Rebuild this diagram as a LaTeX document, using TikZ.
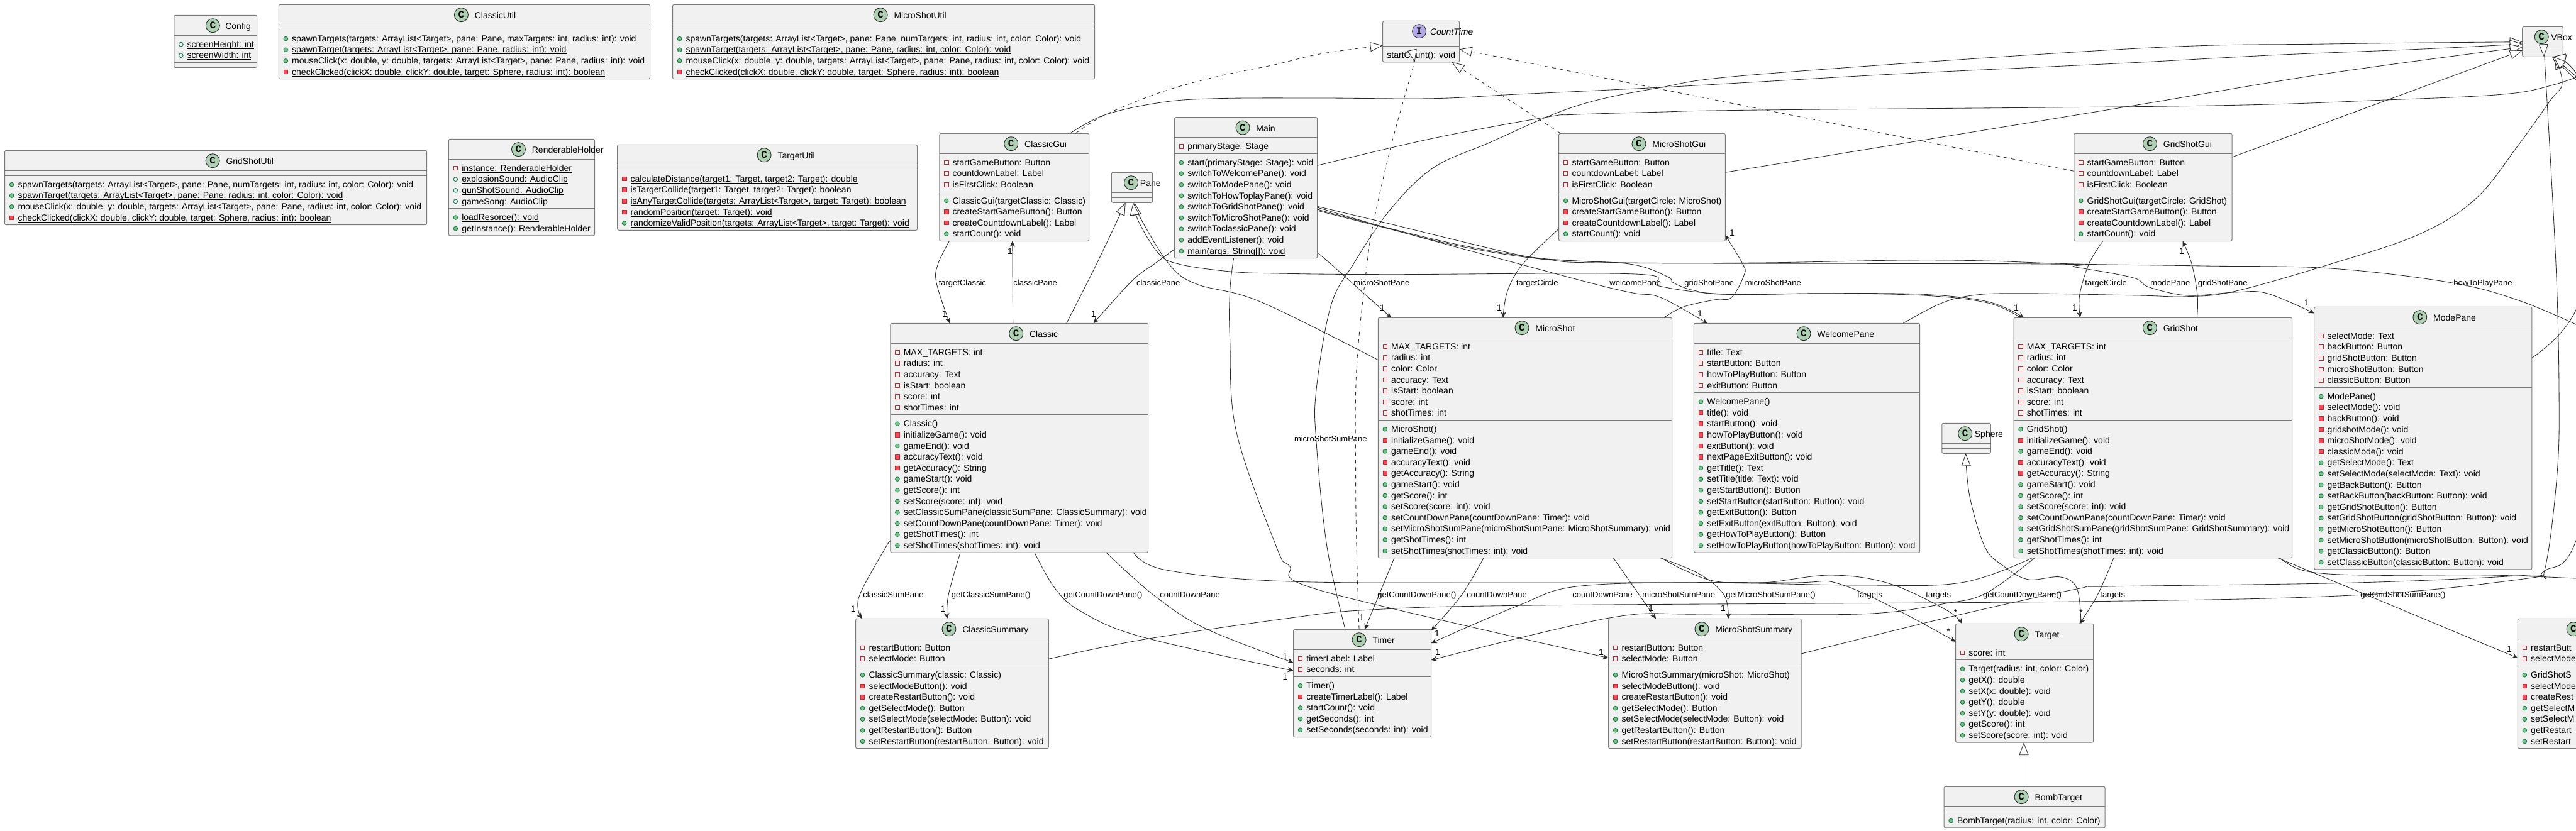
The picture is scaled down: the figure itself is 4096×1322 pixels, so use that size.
\documentclass[tikz,border=0pt]{standalone}
\usepackage{fontspec}
\setmainfont{Liberation Sans}
\newfontfamily\iconfamily{Liberation Mono}
\usetikzlibrary{arrows.meta}
\definecolor{boxfill}{HTML}{F1F1F1}
\definecolor{boxline}{HTML}{7A7A7A}
\definecolor{edgeline}{HTML}{2A2A2A}
\definecolor{iconclass}{HTML}{ADD1B2}
\definecolor{iconiface}{HTML}{B4A7E5}
\definecolor{publine}{HTML}{038048}
\definecolor{pubfill}{HTML}{84BE84}
\definecolor{priline}{HTML}{C82930}
\definecolor{prifill}{HTML}{F24D5C}
\newlength\tw
\newcounter{rowc}
\newcommand\umlsize{\fontsize{7}{8.4}\selectfont}
\tikzset{
  umlshape/.style={draw=boxline,fill=boxfill,line width=.5pt,rounded corners=1.2pt,inner sep=0pt,outer sep=0pt},
  sepline/.style={draw=boxline,line width=.5pt},
  iconC/.style={fill=iconclass},
  iconI/.style={fill=iconiface},
  iconbase/.style={circle,draw=edgeline,line width=.45pt,minimum size=11pt,inner sep=0pt,font=\iconfamily\bfseries\fontsize{8}{8}\selectfont},
  titletext/.style={anchor=base west,inner sep=0pt,font=\umlsize},
  rowtext/.style={anchor=base west,inner sep=0pt,font=\umlsize},
  visbase/.style={inner sep=0pt,line width=.45pt,minimum size=3.3pt},
  pubF/.style={visbase,circle,draw=publine},
  pubM/.style={visbase,circle,draw=publine,fill=pubfill},
  priF/.style={visbase,rectangle,draw=priline},
  priM/.style={visbase,rectangle,draw=priline,fill=prifill},
  conn/.style={draw=edgeline,line width=.42pt},
  assoc/.style={conn,-{Stealth[length=4.6pt,width=4.2pt,inset=1.6pt]}},
  genl/.style={conn,-{Triangle[length=10pt,width=7.5pt,fill=white,line width=.42pt]}},
  realz/.style={genl,dash pattern=on 3pt off 3pt},
  edgetext/.style={anchor=base west,inner sep=0pt,font=\fontsize{6.5}{7.8}\selectfont},
  multtext/.style={anchor=center,inner sep=0pt,font=\umlsize},
}
% [title offset]{name}{x1}{x2}{top}{n fields}{n methods}{icon letter}{title}
\newcommand\umlbox[9][21]{%
  \pgfmathsetmacro\bh{48+(#6+#7)*17.6}%
  \pgfmathsetmacro\bw{#4-#3}%
  \node[umlshape,minimum width=\bw*0.5pt,minimum height=\bh*0.5pt,anchor=north west] (#2) at (#3,#5) {};%
  \pgfmathsetmacro\sepa{#5+32}%
  \pgfmathsetmacro\sepb{#5+40+#6*17.6}%
  \draw[sepline] (#2.west |- {0,\sepa}) -- (#2.east |- {0,\sepa});%
  \draw[sepline] (#2.west |- {0,\sepb}) -- (#2.east |- {0,\sepb});%
  \settowidth\tw{\umlsize #9}%
  \pgfmathsetmacro\gw{11+#1+\tw*2}%
  \pgfmathsetmacro\icx{(#3+#4)/2-\gw/2+11}%
  \pgfmathsetmacro\icy{#5+16.4}%
  \pgfmathsetmacro\ttx{\icx+#1}%
  \pgfmathsetmacro\tty{#5+22.4}%
  \node[iconbase,icon#8] (#2-icon) at (\icx,\icy) {#8};%
  \node[titletext] (#2-title) at (\ttx,\tty) {#9};%
  \edef\curbox{#2}\edef\curx{#3}%
  \pgfmathsetmacro\rowy{\sepa+19}%
  \pgfmathsetmacro\rowyb{\sepb+19}%
  \setcounter{rowc}{0}%
}
\newcommand\methodsec{\edef\rowy{\rowyb}}
\newcommand\umlrow[2]{%
  \stepcounter{rowc}%
  \pgfmathsetmacro\viy{\rowy-4.7}%
  \pgfmathsetmacro\vix{\curx+11}%
  \pgfmathsetmacro\tx{\curx+20.5}%
  \node[#1] (\curbox-v\therowc) at (\vix,\viy) {};%
  \node[rowtext] (\curbox-t\therowc) at (\tx,\rowy) {#2};%
  \pgfmathsetmacro\rowy{\rowy+17.6}%
}
\newcommand\stat[1]{\setbox0\hbox{#1}\rlap{\rule[-1.2pt]{\wd0}{.45pt}}\box0}
\newcommand\pF[1]{\umlrow{pubF}{#1}}
\newcommand\xF[1]{\umlrow{priF}{#1}}
\newcommand\pM[1]{\umlrow{pubM}{#1}}
\newcommand\xM[1]{\umlrow{priM}{#1}}
\begin{document}
\begin{tikzpicture}[x=.5pt,y=-.5pt]
\useasboundingbox (0,0) rectangle (4096,1322);
\clip (0,0) rectangle (4096,1322);
\fill[white] (0,0) rectangle (4096,1322);

\umlbox[19.6]{Config}{276.8}{408.5}{24.3}{2}{0}{C}{Config}
\pF{\stat{screenHeight: int}}\pF{\stat{screenWidth: int}}

\umlbox{ClassicUtil}{443.3}{1033.5}{7.3}{0}{4}{C}{ClassicUtil}
\methodsec
\pM{\stat{spawnTargets(targets: ArrayList<Target>, pane: Pane, maxTargets: int, radius: int): void}}
\pM{\stat{spawnTarget(targets: ArrayList<Target>, pane: Pane, radius: int): void}}
\pM{\stat{mouseClick(x: double, y: double, targets: ArrayList<Target>, pane: Pane, radius: int): void}}
\xM{\stat{checkClicked(clickX: double, clickY: double, target: Sphere, radius: int): boolean}}

\umlbox{MicroShotUtil}{1069.6}{1740.6}{7.3}{0}{4}{C}{MicroShotUtil}
\methodsec
\pM{\stat{spawnTargets(targets: ArrayList<Target>, pane: Pane, numTargets: int, radius: int, color: Color): void}}
\pM{\stat{spawnTarget(targets: ArrayList<Target>, pane: Pane, radius: int, color: Color): void}}
\pM{\stat{mouseClick(x: double, y: double, targets: ArrayList<Target>, pane: Pane, radius: int, color: Color): void}}
\xM{\stat{checkClicked(clickX: double, clickY: double, target: Sphere, radius: int): boolean}}

\umlbox{GridShotUtil}{7.6}{678.6}{239.3}{0}{4}{C}{GridShotUtil}
\methodsec
\pM{\stat{spawnTargets(targets: ArrayList<Target>, pane: Pane, numTargets: int, radius: int, color: Color): void}}
\pM{\stat{spawnTarget(targets: ArrayList<Target>, pane: Pane, radius: int, color: Color): void}}
\pM{\stat{mouseClick(x: double, y: double, targets: ArrayList<Target>, pane: Pane, radius: int, color: Color): void}}
\xM{\stat{checkClicked(clickX: double, clickY: double, target: Sphere, radius: int): boolean}}

\umlbox{RenderableHolder}{713.4}{945.5}{221.3}{4}{2}{C}{RenderableHolder}
\xF{\stat{instance: RenderableHolder}}\pF{\stat{explosionSound: AudioClip}}\pF{\stat{gunShotSound: AudioClip}}\pF{\stat{gameSong: AudioClip}}
\methodsec
\pM{\stat{loadResorce(): void}}\pM{\stat{getInstance(): RenderableHolder}}

\umlbox{TargetUtil}{981.7}{1458.5}{230.3}{0}{5}{C}{TargetUtil}
\methodsec
\xM{\stat{calculateDistance(target1: Target, target2: Target): double}}
\xM{\stat{isTargetCollide(target1: Target, target2: Target): boolean}}
\xM{\stat{isAnyTargetCollide(targets: ArrayList<Target>, target: Target): boolean}}
\xM{\stat{randomPosition(target: Target): void}}
\pM{\stat{randomizeValidPosition(targets: ArrayList<Target>, target: Target): void}}

\umlbox{ClassicGui}{1493.8}{1731.7}{212.3}{3}{4}{C}{ClassicGui}
\xF{startGameButton: Button}\xF{countdownLabel: Label}\xF{isFirstClick: Boolean}
\methodsec
\pM{ClassicGui(targetClassic: Classic)}\xM{createStartGameButton(): Button}\xM{createCountdownLabel(): Label}\pM{startCount(): void}

\umlbox{Main}{1867.4}{2094.6}{186.7}{1}{9}{C}{Main}
\xF{primaryStage: Stage}
\methodsec
\pM{start(primaryStage: Stage): void}\pM{switchToWelcomePane(): void}\pM{switchToModePane(): void}\pM{switchToHowToplayPane(): void}\pM{switchToGridShotPane(): void}\pM{switchToMicroShotPane(): void}\pM{switchToclassicPane(): void}\pM{addEventListener(): void}\pM{\stat{main(args: String[]): void}}

\umlbox[14]{Pane}{1767.4}{1832.6}{274.3}{0}{0}{C}{Pane}

\umlbox[17]{CountTime}{2198.7}{2320.5}{33.3}{0}{1}{I}{\itshape CountTime}
\pgfmathsetmacro\cty{\rowyb}
\node[rowtext] (CountTime-t1) at (2205,\cty) {startCount(): void};

\umlbox{MicroShotGui}{2478.6}{2743.3}{212.3}{3}{4}{C}{MicroShotGui}
\xF{startGameButton: Button}\xF{countdownLabel: Label}\xF{isFirstClick: Boolean}
\methodsec
\pM{MicroShotGui(targetCircle: MicroShot)}\xM{createStartGameButton(): Button}\xM{createCountdownLabel(): Label}\pM{startCount(): void}

\umlbox{GridShotGui}{3297.8}{3549.1}{212.3}{3}{4}{C}{GridShotGui}
\xF{startGameButton: Button}\xF{countdownLabel: Label}\xF{isFirstClick: Boolean}
\methodsec
\pM{GridShotGui(targetCircle: GridShot)}\xM{createStartGameButton(): Button}\xM{createCountdownLabel(): Label}\pM{startCount(): void}

\umlbox[14.7]{VBox}{4010.7}{4075.4}{42.3}{0}{0}{C}{VBox}

\umlbox{Classic}{1415.9}{1825.5}{514.3}{6}{12}{C}{Classic}
\xF{MAX\_TARGETS: int}\xF{radius: int}\xF{accuracy: Text}\xF{isStart: boolean}\xF{score: int}\xF{shotTimes: int}
\methodsec
\pM{Classic()}\xM{initializeGame(): void}\pM{gameEnd(): void}\xM{accuracyText(): void}\xM{getAccuracy(): String}\pM{gameStart(): void}\pM{getScore(): int}\pM{setScore(score: int): void}\pM{setClassicSumPane(classicSumPane: ClassicSummary): void}\pM{setCountDownPane(countDownPane: Timer): void}\pM{getShotTimes(): int}\pM{setShotTimes(shotTimes: int): void}

\umlbox{MicroShot}{2191.3}{2658.7}{505.3}{7}{12}{C}{MicroShot}
\xF{MAX\_TARGETS: int}\xF{radius: int}\xF{color: Color}\xF{accuracy: Text}\xF{isStart: boolean}\xF{score: int}\xF{shotTimes: int}
\methodsec
\pM{MicroShot()}\xM{initializeGame(): void}\pM{gameEnd(): void}\xM{accuracyText(): void}\xM{getAccuracy(): String}\pM{gameStart(): void}\pM{getScore(): int}\pM{setScore(score: int): void}\pM{setCountDownPane(countDownPane: Timer): void}\pM{setMicroShotSumPane(microShotSumPane: MicroShotSummary): void}\pM{getShotTimes(): int}\pM{setShotTimes(shotTimes: int): void}

\umlbox{WelcomePane}{2693.4}{3052.6}{514.3}{4}{14}{C}{WelcomePane}
\xF{title: Text}\xF{startButton: Button}\xF{howToPlayButton: Button}\xF{exitButton: Button}
\methodsec
\pM{WelcomePane()}\xM{title(): void}\xM{startButton(): void}\xM{howToPlayButton(): void}\xM{exitButton(): void}\xM{nextPageExitButton(): void}\pM{getTitle(): Text}\pM{setTitle(title: Text): void}\pM{getStartButton(): Button}\pM{setStartButton(startButton: Button): void}\pM{getExitButton(): Button}\pM{setExitButton(exitButton: Button): void}\pM{getHowToPlayButton(): Button}\pM{setHowToPlayButton(howToPlayButton: Button): void}

\umlbox[14.8]{Sphere}{3087.8}{3165.3}{673.3}{0}{0}{C}{Sphere}

\umlbox{GridShot}{3202}{3644.7}{505.3}{7}{12}{C}{GridShot}
\xF{MAX\_TARGETS: int}\xF{radius: int}\xF{color: Color}\xF{accuracy: Text}\xF{isStart: boolean}\xF{score: int}\xF{shotTimes: int}
\methodsec
\pM{GridShot()}\xM{initializeGame(): void}\pM{gameEnd(): void}\xM{accuracyText(): void}\xM{getAccuracy(): String}\pM{gameStart(): void}\pM{getScore(): int}\pM{setScore(score: int): void}\pM{setCountDownPane(countDownPane: Timer): void}\pM{setGridShotSumPane(gridShotSumPane: GridShotSummary): void}\pM{getShotTimes(): int}\pM{setShotTimes(shotTimes: int): void}

\umlbox{ModePane}{3679.7}{4025.9}{488.3}{5}{16}{C}{ModePane}
\xF{selectMode: Text}\xF{backButton: Button}\xF{gridShotButton: Button}\xF{microShotButton: Button}\xF{classicButton: Button}
\methodsec
\pM{ModePane()}\xM{selectMode(): void}\xM{backButton(): void}\xM{gridshotMode(): void}\xM{microShotMode(): void}\xM{classicMode(): void}\pM{getSelectMode(): Text}\pM{setSelectMode(selectMode: Text): void}\pM{getBackButton(): Button}\pM{setBackButton(backButton: Button): void}\pM{getGridShotButton(): Button}\pM{setGridShotButton(gridShotButton: Button): void}\pM{getMicroShotButton(): Button}\pM{setMicroShotButton(microShotButton: Button): void}\pM{getClassicButton(): Button}\pM{setClassicButton(classicButton: Button): void}

\umlbox{ClassicSummary}{1360.6}{1667.3}{984.3}{2}{7}{C}{ClassicSummary}
\xF{restartButton: Button}\xF{selectMode: Button}
\methodsec
\pM{ClassicSummary(classic: Classic)}\xM{selectModeButton(): void}\xM{createRestartButton(): void}\pM{getSelectMode(): Button}\pM{setSelectMode(selectMode: Button): void}\pM{getRestartButton(): Button}\pM{setRestartButton(restartButton: Button): void}

\umlbox{Timer}{2056.5}{2275.7}{1001.3}{2}{5}{C}{Timer}
\xF{timerLabel: Label}\xF{seconds: int}
\methodsec
\pM{Timer()}\xM{createTimerLabel(): Label}\pM{startCount(): void}\pM{getSeconds(): int}\pM{setSeconds(seconds: int): void}

\umlbox{MicroShotSummary}{2557.6}{2864.2}{984.3}{2}{7}{C}{MicroShotSummary}
\xF{restartButton: Button}\xF{selectMode: Button}
\methodsec
\pM{MicroShotSummary(microShot: MicroShot)}\xM{selectModeButton(): void}\xM{createRestartButton(): void}\pM{getSelectMode(): Button}\pM{setSelectMode(selectMode: Button): void}\pM{getRestartButton(): Button}\pM{setRestartButton(restartButton: Button): void}

\umlbox{Target}{3109.5}{3328.7}{992.3}{1}{7}{C}{Target}
\xF{score: int}
\methodsec
\pM{Target(radius: int, color: Color)}\pM{getX(): double}\pM{setX(x: double): void}\pM{getY(): double}\pM{setY(y: double): void}\pM{getScore(): int}\pM{setScore(score: int): void}

\umlbox{BombTarget}{3091.2}{3347}{1251.3}{0}{1}{C}{BombTarget}
\methodsec
\pM{BombTarget(radius: int, color: Color)}

% this box runs off the right edge of the picture: only what fits on the page is printed
\umlbox[140.3]{GridShotSummary}{4003.3}{4310}{984.3}{2}{7}{C}{}
\xF{restartButt}\xF{selectMode}
\methodsec
\pM{GridShotS}\xM{selectMode}\xM{createRest}\pM{getSelectM}\pM{setSelectM}\pM{getRestart}\pM{setRestart}

% free ends that leave the page
\coordinate (howOff) at (4115,525);
\coordinate (mainOff) at (4125,112);
\coordinate (gridOff) at (4115,921);
\coordinate (offA) at (4135,165);
\coordinate (offB) at (4140,160);

% generalisations towards VBox
\draw[genl] plot[smooth,tension=.6] coordinates {(Timer.north -| {2139,0}) (2110,870) (2093,703) (2093,620) (2116,487) (2152,420) (2211,333) (2279,267) (2368,227) (2502,170) (2636,140) (2800,118) (3400,77) (3700,70) (VBox.west |- {0,66.7})};
\draw[genl] plot[smooth,tension=.6] coordinates {(ClassicGui.north -| {1701.3,0}) (1757,182.7) (1846,163) (1935.7,156.7) (2100,156) (2278.6,156.7) (2412.5,150) (2635.7,139.3) (2800,130) (3023,117.3) (3246,106.7) (3400,99.3) (3623,87.3) (3846,78.3) (VBox.west |- {0,70})};
\draw[genl] plot[smooth,tension=.6] coordinates {(MicroShotGui.east |- {0,274.3}) (2800,265) (3100,216) (3400,166.7) (3700,117) (VBox.west |- {0,75})};
\draw[genl] (GridShotGui.east |- {0,250}) -- (VBox.west |- {0,80});
\draw[genl] plot[smooth,tension=.6] coordinates {(WelcomePane.north -| {3026,0}) (3084.7,483.3) (3135.7,470) (3212,466.7) (3400,470) (3477.7,471.7) (3553.8,463.3) (3706,420) (3846,373) (3936,316.7) (4002.7,233) (4055,160) (4074,133) (VBox.south -| {4063,0})};
\draw[genl] plot[smooth,tension=.6] coordinates {(MicroShotSummary.east |- {0,1040}) (3094,983) (3302,937) (3355,933) (3746,927) (4020,915) (4046,907) (4066,753) (4069,620) (4064,420) (4047,110) (VBox.south -| {4045,0})};
\draw[genl] plot[smooth,tension=.6] coordinates {(ClassicSummary.east |- {0,1048.3}) (1815,1018) (2050,983.3) (2180.5,970) (2441.4,963) (3302.6,957) (3746,946.7) (4007,921.7) (4046,908) (4096,860) (4160,600) (4160,300) (4105,131) (VBox.south -| {4060,0})};
\draw[genl] plot[smooth,tension=.6] coordinates {(ModePane.east |- {0,569.3}) (4096,493) (4150,300) (4103,129) (VBox.south -| {4059,0})};
\draw[genl] (offA) -- (VBox.south -| {4058,0});
\draw[genl] (offB) -- (VBox.south -| {4060,0});
\draw[conn] plot[smooth,tension=.6] coordinates {(Main.east |- {0,263.3}) (2278.6,220) (2457,186.7) (2501.8,182.3) (2635.7,178.3) (2800,175) (3500,168.3) (3793,159) (3980,150) (4060,135) (mainOff)};

% realisations of CountTime
\draw[realz] plot[smooth,tension=.6] coordinates {(ClassicGui.north -| {1710,0}) (1757,182.7) (1846,146.7) (1935.7,121.7) (2025,103.3) (2100,85.7) (CountTime.west |- {0,72.3})};
\draw[realz] plot[smooth,tension=.6] coordinates {(MicroShotGui.north -| {2481.7,0}) (2385.7,150) (CountTime.south -| {2308.5,0})};
\draw[realz] (GridShotGui.west |- {0,272.3}) -- (CountTime.east |- {0,78.3});
\draw[realz] plot[smooth,tension=.6] coordinates {(Timer.north -| {2161,0}) (2157,870) (2155.6,753) (2157,586.7) (2173.7,420) (2184.8,350) (2211.6,233) (2243,120) (CountTime.south -| {2249.6,0})};

% generalisations towards Pane and Sphere, Target
\draw[genl] plot[smooth,tension=.6] coordinates {(Classic.north -| {1695.7,0}) (1743.6,420) (Pane.south -| {1789.7,0})};
\draw[genl] plot[smooth,tension=.6] coordinates {(MicroShot.west |- {0,572.7}) (2004,480) (1902,451.7) (1858.7,420) (1815,350) (Pane.south -| {1804,0})};
\draw[genl] plot[smooth,tension=.6] coordinates {(GridShot.north -| {3213,0}) (3161,482) (3059,470) (2906,467) (2743,468) (2638,455) (2600,436) (2208,436.7) (2029.6,435) (1953,431.7) (1874,420) (1842,403) (1810.7,353) (Pane.south -| {1801.8,0})};
\draw[genl] plot[smooth,tension=.6] coordinates {(Target.north -| {3309,0}) (3302.6,936.7) (3276.5,918) (3224,921.7) (3185,900) (3156,870) (3132,790) (Sphere.south -| {3125.5,0})};
\draw[genl] (BombTarget.north -| {3218,0}) -- (Target.south -| {3218,0});

% associations
\draw[assoc] plot[smooth,tension=.6] coordinates {(Main.west |- {0,396.7}) (1835.3,420) (1800,446.7) (Classic.north -| {1738.8,0})};
\draw[assoc] plot[smooth,tension=.6] coordinates {(ClassicGui.south -| {1509.4,0}) (1491.5,420) (1489,450) (Classic.north -| {1510,0})};
\draw[assoc] (Classic.north -| {1610.6,0}) -- (ClassicGui.south -| {1609.8,0});
\draw[assoc] plot[smooth,tension=.6] coordinates {(Main.east |- {0,401.7}) (2116,420) (MicroShot.north -| {2212,0})};
\draw[assoc] plot[smooth,tension=.6] coordinates {(Main.south -| {1961.6,0}) (1955.6,463) (1955.6,540) (1965.8,686.7) (2029.6,870) (2050,900) (2102,940) (MicroShotSummary.west |- {0,1046.7})};
\draw[assoc] plot[smooth,tension=.6] coordinates {(MicroShotGui.west |- {0,364}) (2421.4,420) (2397,463) (MicroShot.north -| {2390,0})};
\draw[assoc] plot[smooth,tension=.6] coordinates {(MicroShot.north -| {2646,0}) (2676.5,488.3) (2727.5,476.7) (2753,473.3) (2773.5,436.7) (2771,420) (MicroShotGui.east |- {0,374})};
\draw[assoc] plot[smooth,tension=.6] coordinates {(Main.east |- {0,330}) (2184.8,356.7) (2278.6,383) (2416,420) (2540,453) (2600,466.7) (2630.6,470) (2661,483.3) (WelcomePane.north -| {2714.8,0})};
\draw[assoc] plot[smooth,tension=.6] coordinates {(Main.east |- {0,333}) (2184.8,357) (2323,390) (2457,411.7) (2591,420) (2651,440) (2661,450) (2692,461.7) (2743,468.3) (2906,466.7) (3059,468.3) (3161,480) (GridShot.north -| {3218,0})};
\draw[assoc] plot[smooth,tension=.6] coordinates {(Main.east |- {0,335}) (2184.8,358) (2323,392) (2457,412.7) (2591,418.5) (3253,420) (3300,425) (3391,441.7) (3416.8,456.7) (3477.7,470) (3553.8,465) (3604.6,466.7) (ModePane.west |- {0,498.3})};
\draw[assoc] plot[smooth,tension=.6] coordinates {(Main.east |- {0,328.3}) (2184.8,350) (2412.5,405) (2479.5,413.3) (2591,418) (2800,418) (3023,414) (3157,415) (3300,420) (3503,423) (3706,427) (3899,450) (4010.6,480) (howOff)};
\draw[assoc] plot[smooth,tension=.6] coordinates {(GridShotGui.south -| {3343.7,0}) (3321.4,420) (3306.6,470) (GridShot.north -| {3307.6,0})};
\draw[assoc] plot[smooth,tension=.6] coordinates {(GridShot.north -| {3493.4,0}) (3494,470) (3485,420) (GridShotGui.south -| {3470.5,0})};
\draw[assoc] plot[smooth,tension=.6] coordinates {(Classic.west |- {0,861.7}) (1408.7,870) (1365.7,950) (ClassicSummary.north -| {1370.8,0})};
\draw[assoc] plot[smooth,tension=.6] coordinates {(Classic.south -| {1527,0}) (1508,946.7) (ClassicSummary.north -| {1506,0})};
\draw[assoc] plot[smooth,tension=.6] coordinates {(Classic.south -| {1645,0}) (1678,936.7) (1719.6,973) (1815,1013) (Timer.west |- {0,1067})};
\draw[assoc] plot[smooth,tension=.6] coordinates {(Classic.south -| {1759,0}) (1834.4,946.7) (1917,1000) (Timer.west |- {0,1054})};
\draw[assoc] plot[smooth,tension=.6] coordinates {(Classic.south -| {1802.5,0}) (1853.6,906.7) (2050,925) (2441,927) (2833,927) (2937,933) (Target.west |- {0,1020.7})};
\draw[assoc] (MicroShot.south -| {2217,0}) -- (Timer.north -| {2170,0});
\draw[assoc] plot[smooth,tension=.6] coordinates {(MicroShot.south -| {2359,0}) (2324,946.7) (Timer.east |- {0,1003})};
\draw[assoc] (MicroShot.south -| {2565.4,0}) -- (MicroShotSummary.north -| {2633,0});
\draw[assoc] plot[smooth,tension=.6] coordinates {(MicroShot.south -| {2640,0}) (2702,913) (2741.5,946.7) (MicroShotSummary.north -| {2748,0})};
\draw[assoc] plot[smooth,tension=.6] coordinates {(MicroShot.south -| {2642,0}) (2676,906) (2729,925) (2807,926.7) (2911,915) (3003,928) (3094,970) (Target.north -| {3120,0})};
\draw[assoc] plot[smooth,tension=.6] coordinates {(GridShot.south -| {3231,0}) (3120,926.7) (2963.5,931) (2702,927) (2506.7,933) (2415,963) (Timer.east |- {0,1023})};
\draw[assoc] plot[smooth,tension=.6] coordinates {(GridShot.south -| {3235,0}) (3159,943) (3094,960) (2963,976.7) (2702,977) (2559,983) (Timer.east |- {0,1050})};
\draw[assoc] plot[smooth,tension=.6] coordinates {(GridShot.south -| {3361,0}) (3335,946.7) (Target.north -| {3306.5,0})};
\draw[assoc] (GridShot.south -| {3622,0}) -- (GridShotSummary.west |- {0,1046.7});
\draw[assoc] plot[smooth,tension=.6] coordinates {(GridShot.south -| {3625,0}) (3665.5,908.3) (3757,915) (3960,915) (gridOff)};

% connector labels
\newcounter{lblc}
\newcommand\elab[3]{\stepcounter{lblc}\pgfmathsetmacro\ely{#2+4.5}\node[edgetext] (edgelabel\thelblc) at (#1,\ely) {#3};}
\elab{1492.4}{450}{targetClassic}
\elab{1611}{450}{classicPane}
\elab{1806.6}{450}{classicPane}
\elab{2152}{450}{microShotPane}
\elab{2410.7}{450}{targetCircle}
\elab{2559}{450}{welcomePane}
\elab{2678}{450}{gridShotPane}
\elab{2774.5}{450}{microShotPane}
\elab{3315}{450}{targetCircle}
\elab{3419}{450}{modePane}
\elab{3494.4}{450}{gridShotPane}
\elab{3901}{450}{howToPlayPane}
\elab{2057.6}{697.7}{microShotSumPane}
\elab{1372}{946}{classicSumPane}
\elab{1512.4}{946}{getClassicSumPane()}
\elab{1691}{946}{getCountDownPane()}
\elab{1844}{946}{countDownPane}
\elab{2190}{946}{getCountDownPane()}
\elab{2332}{946}{countDownPane}
\elab{2500}{946}{countDownPane}
\elab{2611}{946}{microShotSumPane}
\elab{2744}{946}{getMicroShotSumPane()}
\elab{2953}{946}{targets}
\elab{3062}{946}{targets}
\elab{3152.6}{946}{getCountDownPane()}
\elab{3339}{946}{targets}
\elab{3753}{946}{getGridShotSumPane()}

% multiplicities
\newcounter{mulc}
\newcommand\mul[3]{\stepcounter{mulc}\node[multtext] (mult\themulc) at (#1,#2) {#3};}
\mul{1606}{400}{1}\mul{1502}{499.3}{1}\mul{1738.8}{499.3}{1}\mul{2754}{371}{1}
\mul{2198}{490}{1}\mul{2384}{490}{1}\mul{2703}{498.3}{1}\mul{3206}{490}{1}
\mul{3299}{489.3}{1}\mul{3668}{481.7}{1}\mul{3469}{400}{1}
\mul{1356.8}{968.3}{1}\mul{1499.6}{968.3}{1}\mul{2043.6}{1045}{1}\mul{2043.6}{1076.7}{1}
\mul{2165}{983}{1}\mul{2285}{1008}{1}\mul{2286}{1038}{1}\mul{2546}{1038}{1}
\mul{2625}{968}{1}\mul{2740}{968}{1}\mul{3990}{1033}{1}
\mul{3109.5}{975}{*}\mul{3098}{1005}{*}\mul{3309}{975}{*}
\end{tikzpicture}
\end{document}
